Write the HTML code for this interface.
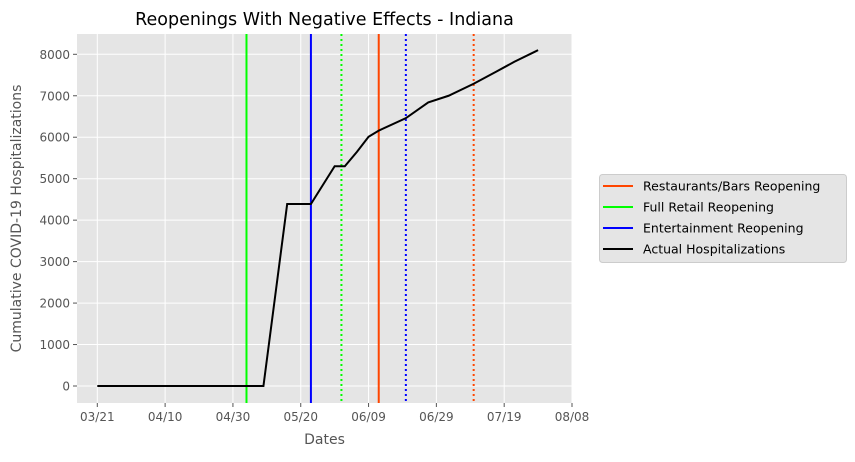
<!DOCTYPE html>
<html><head><meta charset="utf-8"><style>
body{margin:0;background:#fff;}
svg text{font-family:"DejaVu Sans","Liberation Sans",sans-serif;}
</style></head><body>
<svg id="chart" width="855" height="457" xmlns="http://www.w3.org/2000/svg"></svg>
<script>
const tickLabels=["03/21","04/10","04/30","05/20","06/09","06/29","07/19","08/08"];
const tickDays=[0,20,40,60,80,100,120,140];
const yTicks=[0,1000,2000,3000,4000,5000,6000,7000,8000];
const hospDays=[0,49,56,63,70,73,76.6,80,83,91,97.6,103.6,111,117.6,123,129,130];
const hospVals=[0,0,4390,4390,5300,5300,5650,6010,6160,6460,6840,7000,7290,7580,7820,8060,8100];
const eventNames=["Full Retail Reopening","Entertainment Reopening","Full Retail Reopening (lag)","Restaurants/Bars Reopening","Entertainment Reopening (lag)","Restaurants/Bars Reopening (lag)"];
const eventDays=[44,63,72,83,91,111];
const eventColors=["#00ff00","#0000ff","#00ff00","#ff4500","#0000ff","#ff4500"];
const eventDotted=[false,false,true,false,true,true];

const L=77,R=572,T=34,B=403;
const x=d=>97.3+(d-0)*(572-97.3)/140;
const y=v=>386-v*(386-54.3)/8000;
const svg=document.getElementById('chart');
const NS="http://www.w3.org/2000/svg";
function mk(tag,attrs,parent){const e=document.createElementNS(NS,tag);for(const k in attrs)e.setAttribute(k,attrs[k]);(parent||svg).appendChild(e);return e;}

const bg=mk('rect',{x:L,y:T,width:R-L,height:B-T,fill:'#e5e5e5'});



tickDays.forEach((d,i)=>{
  const g=mk('line',{x1:x(d),x2:x(d),y1:T,y2:B,stroke:'#fff','stroke-width':1});
  
  
  mk('line',{x1:x(d),x2:x(d),y1:B,y2:B+4,stroke:'#555'});
  const t=mk('text',{x:x(d),y:B+18,'text-anchor':'middle','font-size':12,fill:'#555'});
  t.textContent=tickLabels[i];
  
  
});
yTicks.forEach(v=>{
  const g=mk('line',{x1:L,x2:R,y1:y(v),y2:y(v),stroke:'#fff','stroke-width':1});
  
  
  mk('line',{x1:L-4,x2:L,y1:y(v),y2:y(v),stroke:'#555'});
  const t=mk('text',{x:L-7,y:y(v)+4.5,'text-anchor':'end','font-size':12,fill:'#555'});
  t.textContent=v;
  
  
});

eventDays.forEach((d,i)=>{
  const a={x1:x(d),x2:x(d),y1:T,y2:B,stroke:eventColors[i],'stroke-width':2};
  if(eventDotted[i])a['stroke-dasharray']='2,3';
  const l=mk('line',a);
  
  
});

const pts=hospDays.map((d,i)=>x(d)+','+y(hospVals[i])).join(' ');
const pl=mk('polyline',{points:pts,fill:'none',stroke:'#000','stroke-width':2});



const title=mk('text',{x:(L+R)/2,y:25,'text-anchor':'middle','font-size':17.5,fill:'#000'});
title.textContent='Reopenings With Negative Effects - Indiana';


const xt=mk('text',{x:(L+R)/2,y:444,'text-anchor':'middle','font-size':14,fill:'#555'});
xt.textContent='Dates';


const yt=mk('text',{x:0,y:0,'text-anchor':'middle','font-size':14,fill:'#555',transform:'translate(21,'+((T+B)/2)+') rotate(-90)'});
yt.textContent='Cumulative COVID-19 Hospitalizations';



const lg=mk('g',{});


mk('rect',{x:599.5,y:174.5,width:247,height:88,rx:3,fill:'#e5e5e5',stroke:'#ccc'},lg);
const legNames=["Restaurants/Bars Reopening","Full Retail Reopening","Entertainment Reopening","Actual Hospitalizations"];
const legColors=["#ff4500","#00ff00","#0000ff","#000000"];
legNames.forEach((n,i)=>{
  const yy=186+i*21;
  const e=mk('g',{},lg);
  
  
  mk('line',{x1:603,x2:633,y1:yy,y2:yy,stroke:legColors[i],'stroke-width':2},e);
  const t=mk('text',{x:643,y:yy+4.5,'font-size':12.5,fill:'#000'},e);
  t.textContent=n;
});
</script>
</body></html>
